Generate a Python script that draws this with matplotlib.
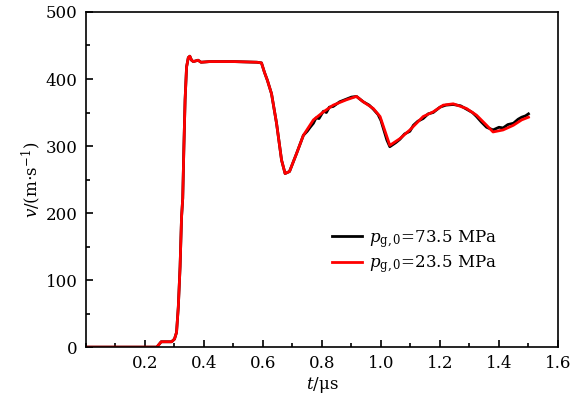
import matplotlib.pyplot as plt
from matplotlib.ticker import MultipleLocator

plt.rcParams["font.family"] = "DejaVu Serif"
plt.rcParams["mathtext.fontset"] = "dejavuserif"
plt.rcParams["font.size"] = 12

# shared start of both curves (t in us, v in m/s)
t_start = [0.0, 0.24, 0.255, 0.29, 0.30, 0.307, 0.313, 0.319, 0.324, 0.328, 0.332,
           0.336, 0.341, 0.347, 0.352, 0.358, 0.364, 0.372, 0.38, 0.39, 0.42, 0.5,
           0.58, 0.595, 0.605, 0.615, 0.629, 0.646, 0.663, 0.675, 0.69, 0.714, 0.737]
v_start = [0, 0, 8, 8, 12, 22, 60, 120, 194, 222, 300,
           369, 418, 432, 434, 428, 426, 427, 428, 425, 426, 426,
           425, 424, 410, 398, 378, 334, 279, 259, 262, 289, 316]

t_low = [0.771, 0.805, 0.838, 0.883, 0.917, 0.94, 0.974, 0.997, 1.03, 1.064,
         1.098, 1.143, 1.177, 1.211, 1.245, 1.29, 1.324, 1.358, 1.38, 1.414,
         1.449, 1.477, 1.5]
v_low = [339, 351, 361, 369, 374, 366, 356, 344, 301, 311,
         324, 344, 351, 361, 363, 356, 346, 331, 321, 324,
         331, 339, 343]

t_high = [0.75, 0.76, 0.771, 0.78, 0.79, 0.805, 0.815, 0.825, 0.838, 0.86,
          0.883, 0.9, 0.917, 0.94, 0.96, 0.974, 0.99, 1.0, 1.02, 1.03,
          1.05, 1.064, 1.08, 1.098, 1.11, 1.125, 1.143, 1.16, 1.177, 1.2,
          1.22, 1.245, 1.27, 1.29, 1.31, 1.324, 1.34, 1.358, 1.38, 1.40,
          1.414, 1.43, 1.449, 1.465, 1.477, 1.49, 1.5]
v_high = [322, 328, 334, 342, 341, 352, 350, 358, 359, 366,
          370, 373, 374, 366, 361, 355, 347, 338, 309, 299,
          305, 310, 318, 322, 331, 337, 341, 348, 350, 358,
          361, 362, 360, 355, 350, 344, 336, 328, 324, 328,
          327, 332, 334, 340, 343, 345, 348]

labels = [r"$p_{\rm g,0}$=73.5 MPa", r"$p_{\rm g,0}$=23.5 MPa"]

fig = plt.figure(figsize=(5.77, 3.99), dpi=100)
ax = fig.add_axes([0.149, 0.130, 0.818, 0.840])

ax.plot(t_start + t_high, v_start + v_high, color="black", lw=2.0, label=labels[0])
ax.plot(t_start + t_low, v_start + v_low, color="red", lw=2.0, label=labels[1])

ax.set_xlim(0, 1.6)
ax.set_ylim(0, 500)
ax.set_xticks([0.2, 0.4, 0.6, 0.8, 1.0, 1.2, 1.4, 1.6])
ax.set_xticklabels(["0.2", "0.4", "0.6", "0.8", "1.0", "1.2", "1.4", "1.6"])
ax.set_yticks([0, 100, 200, 300, 400, 500])
ax.xaxis.set_minor_locator(MultipleLocator(0.1))
ax.yaxis.set_minor_locator(MultipleLocator(50))
ax.tick_params(which="both", direction="in", top=False, right=False, width=1.2)
ax.tick_params(which="major", length=5, pad=6)
ax.tick_params(which="minor", length=3)
for s in ax.spines.values():
    s.set_linewidth(1.2)

ax.set_xlabel(r"$t$/μs", labelpad=2)
ax.set_ylabel(r"$v$/(m$\cdot$s$^{-1}$)", labelpad=2)

ax.legend(loc="upper left", bbox_to_anchor=(0.49, 0.40), frameon=False,
          handlelength=1.8, handletextpad=0.4, labelspacing=0.2)

fig.savefig("out.png", dpi=100)
